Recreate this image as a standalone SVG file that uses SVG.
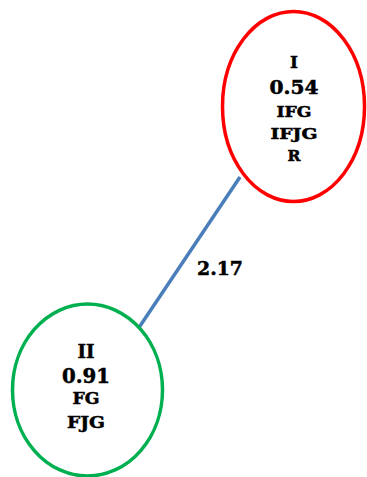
<svg xmlns="http://www.w3.org/2000/svg" width="367" height="477" viewBox="0 0 367 477">
  <style>
    text { font-family: "DejaVu Serif", "Liberation Serif", serif; font-weight: bold; fill: #000; stroke: #000; stroke-width: 0.5; text-anchor: middle; }
    .node { fill: #fff; stroke-width: 3.5; }
    .edge { stroke: #4a7ebb; stroke-width: 3.5; fill: none; }
  </style>
  <rect width="367" height="477" fill="#fff"/>
  <g id="connectors">
    <line class="edge" x1="240" y1="177" x2="138" y2="329"/>
    <text x="220" y="275" font-size="18.5" textLength="46" lengthAdjust="spacingAndGlyphs">2.17</text>
  </g>
  <g id="node-I">
    <ellipse class="node" cx="293.5" cy="106.5" rx="71" ry="95" stroke="#ff0000"/>
    <text x="294" y="68" font-size="17">I</text>
    <text x="294" y="94" font-size="18" textLength="49" lengthAdjust="spacingAndGlyphs">0.54</text>
    <text x="294" y="117" font-size="15.5" textLength="35" lengthAdjust="spacingAndGlyphs">IFG</text>
    <text x="294" y="139" font-size="15.5" textLength="47" lengthAdjust="spacingAndGlyphs">IFJG</text>
    <text x="294" y="161" font-size="15.5" textLength="13" lengthAdjust="spacingAndGlyphs">R</text>
  </g>
  <g id="node-II">
    <ellipse class="node" cx="87.5" cy="390" rx="75" ry="86" stroke="#00b050"/>
    <text x="86" y="358" font-size="18.5" textLength="17" lengthAdjust="spacingAndGlyphs">II</text>
    <text x="86" y="383" font-size="19.5" textLength="48" lengthAdjust="spacingAndGlyphs">0.91</text>
    <text x="86" y="404" font-size="16" textLength="27" lengthAdjust="spacingAndGlyphs">FG</text>
    <text x="86" y="428" font-size="16" textLength="38" lengthAdjust="spacingAndGlyphs">FJG</text>
  </g>
</svg>
